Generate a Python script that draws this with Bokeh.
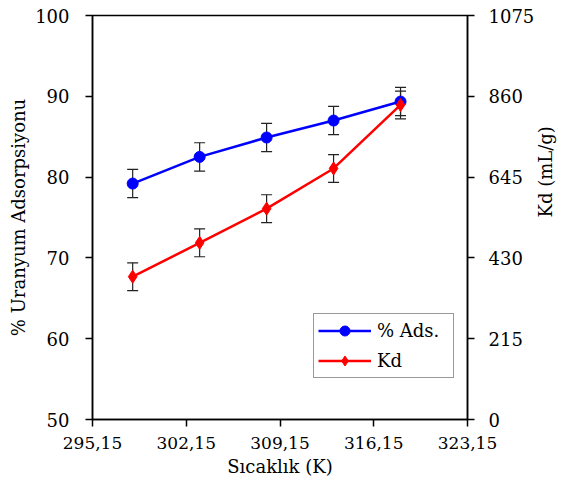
import math
from bokeh.plotting import figure
from bokeh.models import Range1d, LinearAxis, FixedTicker, ColumnDataSource, Whisker, TeeHead, Legend, LegendItem
from bokeh.embed import file_html
from bokeh.resources import INLINE

temps = [298.15, 303.15, 308.15, 313.15, 318.15]
ads = [79.2, 82.5, 84.9, 87.0, 89.35]
ads_err = [1.75, 1.75, 1.75, 1.75, 1.75]
kd = [380, 470, 561, 668, 837]
kd_err = [37, 37, 37, 37, 37]
x_ticks = [295.15, 302.15, 309.15, 316.15, 323.15]
x_tick_labels = ["295,15", "302,15", "309,15", "316,15", "323,15"]
y_ticks = [50, 60, 70, 80, 90, 100]
kd_ticks = [0, 215, 430, 645, 860, 1075]

FONT = "DejaVu Serif"
FS = "18px"

p = figure(width=569, height=495, output_backend="svg", toolbar_location=None,
           x_range=Range1d(295.15, 323.15), y_range=Range1d(50, 100),
           min_border_left=92, min_border_right=100, min_border_top=15, min_border_bottom=76)
p.extra_y_ranges = {"kd": Range1d(0, 1075)}
p.grid.visible = False
p.outline_line_color = "black"
p.outline_line_width = 1.5

def style_axis(ax, size=FS):
    ax.major_label_text_font = FONT
    ax.major_label_text_font_size = size
    ax.axis_label_text_font = FONT
    ax.axis_label_text_font_size = FS
    ax.axis_label_text_font_style = "normal"
    ax.axis_line_width = 1.5
    ax.major_tick_line_width = 1.5
    ax.major_tick_out = 7
    ax.major_tick_in = 0
    ax.minor_tick_line_color = None
    ax.major_label_text_color = "black"
    ax.axis_label_text_color = "black"

xa = p.xaxis[0]
xa.ticker = FixedTicker(ticks=x_ticks)
xa.major_label_overrides = {t: l for t, l in zip(x_ticks, x_tick_labels)}
xa.axis_label = "Sıcaklık (K)"
style_axis(xa, "17px")
xa.major_label_standoff = 10
xa.axis_label_standoff = 4

ya = p.yaxis[0]
ya.ticker = FixedTicker(ticks=y_ticks)
ya.axis_label = "% Uranyum Adsorpsiyonu"
style_axis(ya)
ya.major_label_standoff = 16
ya.axis_label_standoff = 3

ra = LinearAxis(y_range_name="kd", ticker=FixedTicker(ticks=kd_ticks), axis_label="Kd (mL/g)")
style_axis(ra)
ra.major_label_standoff = 14
ra.axis_label_standoff = 8
ra.axis_label_orientation = math.pi / 2
p.add_layout(ra, "right")

src_a = ColumnDataSource(dict(x=temps, y=ads, lo=[a - e for a, e in zip(ads, ads_err)], hi=[a + e for a, e in zip(ads, ads_err)]))
src_k = ColumnDataSource(dict(x=temps, y=kd, lo=[a - e for a, e in zip(kd, kd_err)], hi=[a + e for a, e in zip(kd, kd_err)]))

for src, rng in [(src_a, "default"), (src_k, "kd")]:
    w = Whisker(source=src, base="x", lower="lo", upper="hi", dimension="height",
                line_color="#222222", line_width=1.2,
                upper_head=TeeHead(size=11, line_color="#222222", line_width=1.2),
                lower_head=TeeHead(size=11, line_color="#222222", line_width=1.2))
    w.y_range_name = rng
    p.add_layout(w)

la = p.line("x", "y", source=src_a, line_color="blue", line_width=2.5)
sa = p.scatter("x", "y", source=src_a, marker="circle", size=11, fill_color="blue", line_color="blue")
lk = p.line("x", "y", source=src_k, line_color="red", line_width=2.5, y_range_name="kd")
sk = p.scatter("x", "y", source=src_k, marker="diamond", size=13, fill_color="red", line_color="red", y_range_name="kd")

legend = Legend(items=[LegendItem(label="% Ads.", renderers=[la, sa]),
                       LegendItem(label="Kd", renderers=[lk, sk])],
                location=(221, 41))
legend.label_text_font = FONT
legend.label_text_font_size = FS
legend.label_text_color = "black"
legend.glyph_width = 53
legend.glyph_height = 25
legend.label_height = 25
legend.label_width = 72
legend.spacing = 5
legend.padding = 4
legend.margin = 0
legend.label_standoff = 6
legend.border_line_color = "#333333"
legend.border_line_width = 1.2
legend.background_fill_alpha = 1
p.add_layout(legend, "center")

open("out.html", "w").write(file_html(p, INLINE))
